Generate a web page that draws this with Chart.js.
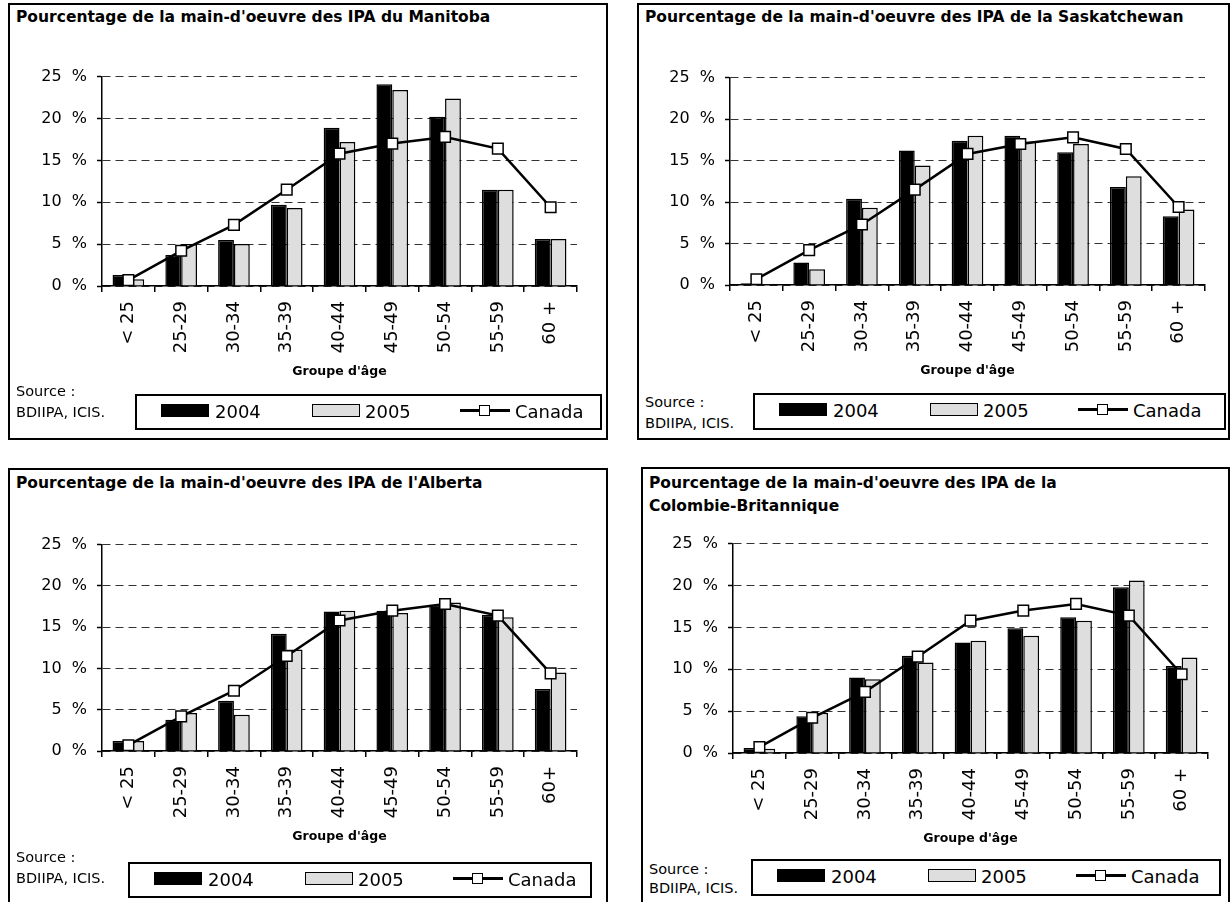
<!DOCTYPE html>
<html lang="fr">
<head>
  <meta charset="UTF-8" />
  <title>Pourcentage de la main-d'oeuvre des IPA</title>
  <style>
    body {
      margin: 0;
      width: 1230px;
      height: 902px;
      overflow: hidden;
      position: relative;
      background: #fff;
      font-family: "DejaVu Sans", sans-serif;
      color: #000;
    }
    .panneau { position: absolute; border: 2px solid #000; box-sizing: border-box; }
    .titre { position: absolute; font-weight: bold; font-size: 15.5px; line-height: 23px; white-space: nowrap; }
    .source { position: absolute; font-size: 14.5px; line-height: 21px; white-space: nowrap; }
    .legende { position: absolute; border: 2px solid #000; box-sizing: border-box; font-size: 18px; }
    .legende span { position: absolute; top: 0; line-height: 32px; }
    .carre { position: absolute; top: 8px; width: 48px; height: 13px; box-sizing: border-box; }
    .trait { position: absolute; top: 13px; width: 50px; height: 3px; background: #000; }
    .marque { position: absolute; top: 9px; width: 11px; height: 11px; background: #fff; border: 1.5px solid #000; box-sizing: border-box; }
    canvas { position: absolute; }
  </style>
</head>
<body>
  <div class="panneau" style="left:8px;top:3px;width:600px;height:437px"></div>
  <div class="panneau" style="left:637px;top:3px;width:593px;height:437px"></div>
  <div class="panneau" style="left:8px;top:468px;width:600px;height:445px"></div>
  <div class="panneau" style="left:641px;top:467px;width:589px;height:445px"></div>

  <div class="titre" style="left:16px;top:6px">Pourcentage de la main-d'oeuvre des IPA du Manitoba</div>
  <div class="titre" style="left:645px;top:6px">Pourcentage de la main-d'oeuvre des IPA de la Saskatchewan</div>
  <div class="titre" style="left:16px;top:472px">Pourcentage de la main-d'oeuvre des IPA de l'Alberta</div>
  <div class="titre" style="left:649px;top:472px">Pourcentage de la main-d'oeuvre des IPA de la<br>Colombie-Britannique</div>

  <canvas id="manitoba" width="557" height="329" style="left:32px;top:57px"></canvas>
  <canvas id="saskatchewan" width="557" height="327" style="left:660px;top:58px"></canvas>
  <canvas id="alberta" width="557" height="326" style="left:32px;top:525px"></canvas>
  <canvas id="colombie" width="557" height="329" style="left:663px;top:524px"></canvas>

  <div class="source" style="left:16px;top:381px">Source :<br>BDIIPA, ICIS.</div>
  <div class="source" style="left:645px;top:392px">Source :<br>BDIIPA, ICIS.</div>
  <div class="source" style="left:16px;top:847px">Source :<br>BDIIPA, ICIS.</div>
  <div class="source" style="left:649px;top:860px;line-height:19px">Source :<br>BDIIPA, ICIS.</div>

  <div class="legende" style="left:135px;top:394px;width:467px;height:36px"></div>
  <div class="legende" style="left:753px;top:393px;width:473px;height:37px"></div>
  <div class="legende" style="left:128px;top:862px;width:464px;height:36px"></div>
  <div class="legende" style="left:751px;top:859px;width:470px;height:37px"></div>

  <script src="https://cdn.jsdelivr.net/npm/chart.js"></script>
  <script>
    // groupes d'âge
    const groupes = ['< 25', '25-29', '30-34', '35-39', '40-44', '45-49', '50-54', '55-59', '60 +'];
    const groupesAlberta = ['< 25', '25-29', '30-34', '35-39', '40-44', '45-49', '50-54', '55-59', '60+'];

    // pourcentages (%)
    const canada = [0.7, 4.2, 7.3, 11.5, 15.8, 17.0, 17.8, 16.4, 9.4];

    const manitoba2004 = [1.3, 3.7, 5.5, 9.7, 18.9, 24.1, 20.2, 11.5, 5.6];
    const manitoba2005 = [0.8, 5.0, 5.0, 9.3, 17.2, 23.4, 22.4, 11.5, 5.6];

    const saskatchewan2004 = [0.2, 2.7, 10.4, 16.2, 17.4, 18.0, 16.0, 11.8, 8.3];
    const saskatchewan2005 = [0.1, 1.9, 9.3, 14.4, 18.0, 17.3, 17.0, 13.1, 9.1];

    const alberta2004 = [1.2, 3.8, 6.1, 14.2, 16.9, 17.0, 17.7, 16.5, 7.5];
    const alberta2005 = [1.2, 4.6, 4.4, 12.3, 17.0, 16.7, 18.0, 16.2, 9.5];

    const colombie2004 = [0.6, 4.4, 9.0, 11.6, 13.2, 14.9, 16.2, 19.8, 10.4];
    const colombie2005 = [0.5, 4.8, 8.8, 10.8, 13.4, 14.0, 15.8, 20.6, 11.4];

    const series = ['2004', '2005', 'Canada'];

    const creerGraphique = (id, etiquettes, d2004, d2005) => {
      const ctx = document.getElementById(id).getContext('2d');
      return new Chart(ctx, {
        type: 'bar',
        data: {
          labels: etiquettes,
          datasets: [
            {
              type: 'line',
              label: series[2],
              data: canada,
              borderColor: '#000',
              borderWidth: 2.5,
              pointStyle: 'rect',
              pointRadius: 7.5,
              pointBackgroundColor: '#fff',
              pointBorderColor: '#000',
              pointBorderWidth: 1.5,
              tension: 0,
              order: 0
            },
            {
              label: series[0],
              data: d2004,
              backgroundColor: '#000',
              borderColor: '#000',
              borderWidth: 1.5,
              order: 1
            },
            {
              label: series[1],
              data: d2005,
              backgroundColor: '#dedede',
              borderColor: '#000',
              borderWidth: 1.5,
              order: 1
            }
          ]
        },
        options: {
          responsive: false,
          animation: false,
          categoryPercentage: 0.6,
          barPercentage: 1,
          layout: { padding: { top: 12, right: 12, left: 0, bottom: 0 } },
          plugins: {
            legend: { display: false },
            tooltip: { enabled: false }
          },
          scales: {
            x: {
              grid: { offset: true, drawOnChartArea: false, tickLength: 6, color: '#000', lineWidth: 1.5 },
              border: { color: '#000', width: 1.5 },
              ticks: {
                minRotation: 90,
                maxRotation: 90,
                autoSkip: false,
                padding: 9,
                color: '#000',
                font: { family: 'DejaVu Sans', size: 18 }
              },
              title: {
                display: true,
                text: "Groupe d'âge",
                color: '#000',
                font: { family: 'DejaVu Sans', size: 12.5, weight: 'bold' },
                padding: { top: 0, bottom: 7 }
              },
              afterFit: (s) => { s.height = 100; }
            },
            y: {
              min: 0,
              max: 25,
              ticks: {
                stepSize: 5,
                padding: 10,
                color: '#000',
                font: { family: 'DejaVu Sans', size: 16 },
                callback: (v) => v + '  %'
              },
              grid: { color: '#333', lineWidth: 1, tickLength: 5, tickColor: '#000', tickWidth: 1.5 },
              border: { color: '#000', width: 1.5, dash: [8, 5] },
              afterFit: (s) => { s.width = 70; }
            }
          }
        }
      });
    };

    creerGraphique('manitoba', groupes, manitoba2004, manitoba2005);
    creerGraphique('saskatchewan', groupes, saskatchewan2004, saskatchewan2005);
    creerGraphique('alberta', groupesAlberta, alberta2004, alberta2005);
    creerGraphique('colombie', groupes, colombie2004, colombie2005);

    // légendes (HTML) construites à partir des noms de séries
    document.querySelectorAll('.legende').forEach((boite) => {
      boite.innerHTML =
        `<div class="carre" style="left:24px;background:#000"></div><span style="left:78px">${series[0]}</span>` +
        `<div class="carre" style="left:175px;background:#dedede;border:1.5px solid #000"></div><span style="left:228px">${series[1]}</span>` +
        `<div class="trait" style="left:323px"></div><div class="marque" style="left:342px"></div><span style="left:378px">${series[2]}</span>`;
    });
  </script>
</body>
</html>
